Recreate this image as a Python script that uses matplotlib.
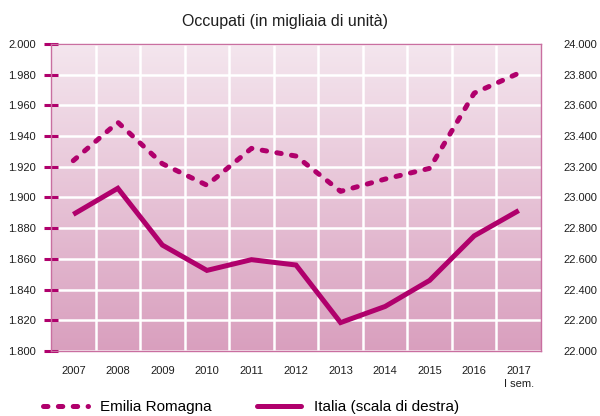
import matplotlib

matplotlib.use("Agg")
import matplotlib.pyplot as plt
import numpy as np
from matplotlib.colors import LinearSegmentedColormap
from matplotlib.lines import Line2D
from matplotlib.ticker import FuncFormatter

YEARS = ["2007", "2008", "2009", "2010", "2011", "2012", "2013", "2014", "2015", "2016", "2017\nI sem."]
EMILIA_ROMAGNA = [1924, 1949, 1922, 1908, 1932, 1927, 1904, 1912, 1919, 1968, 1981]
ITALIA = [22890, 23060, 22690, 22525, 22595, 22560, 22185, 22290, 22460, 22750, 22915]

LEFT_TICKS = [1800, 1820, 1840, 1860, 1880, 1900, 1920, 1940, 1960, 1980, 2000]
RIGHT_TICKS = [22000, 22200, 22400, 22600, 22800, 23000, 23200, 23400, 23600, 23800, 24000]

TITLE = "Occupati (in migliaia di unità)"
LABEL_ER = "Emilia Romagna"
LABEL_IT = "Italia (scala di destra)"

LINE_COLOR = "#b0006c"
SPINE_COLOR = "#c96fa0"
TEXT_COLOR = "#1e1e1e"
FONT = ["Liberation Sans Narrow", "Liberation Sans", "DejaVu Sans"]


def thousands(v, _pos):
    return f"{v:,.0f}".replace(",", ".")


def main() -> int:
    plt.rcParams["font.family"] = FONT
    plt.rcParams["lines.scale_dashes"] = False

    fig = plt.figure(figsize=(6.0, 4.16), dpi=100)
    ax = fig.add_axes([0.085, 0.1563, 0.8167, 0.7379])
    x = np.arange(len(YEARS))

    # background gradient, light on top, darker at the bottom
    cmap = LinearSegmentedColormap.from_list("bg", ["#d99fbe", "#f4e6ee"])
    grad = np.linspace(0, 1, 256).reshape(-1, 1)
    ax.imshow(grad, cmap=cmap, origin="lower", aspect="auto",
              extent=(-0.5, len(YEARS) - 0.5, LEFT_TICKS[0], LEFT_TICKS[-1]), zorder=0)

    ax.set_xlim(-0.5, len(YEARS) - 0.5)
    ax.set_ylim(LEFT_TICKS[0], LEFT_TICKS[-1])
    ax.set_yticks(LEFT_TICKS)
    ax.yaxis.set_major_formatter(FuncFormatter(thousands))
    ax.set_xticks(x)
    ax.set_xticklabels(YEARS, linespacing=1.3)
    ax.set_xticks(x[:-1] + 0.5, minor=True)
    ax.tick_params(axis="x", which="both", length=0, pad=11, labelsize=8, labelcolor=TEXT_COLOR)
    ax.tick_params(axis="y", direction="inout", length=10, width=2.2, color=LINE_COLOR,
                   pad=6, labelsize=8, labelcolor=TEXT_COLOR)

    ax.grid(True, which="minor", axis="x", color="white", linewidth=1.8)
    ax.grid(True, which="major", axis="y", color="white", linewidth=1.8)
    for line in ax.get_xgridlines() + ax.get_ygridlines():
        line.set_zorder(1)

    for side in ("left", "right", "top", "bottom"):
        ax.spines[side].set_color(SPINE_COLOR)
        ax.spines[side].set_linewidth(1.0)
        ax.spines[side].set_zorder(3)

    ax.plot(x, EMILIA_ROMAGNA, color=LINE_COLOR, linewidth=3.6, dashes=(3.2, 7.5),
            dash_capstyle="round", zorder=4)

    ax2 = ax.twinx()
    ax2.set_ylim(RIGHT_TICKS[0], RIGHT_TICKS[-1])
    ax2.set_yticks(RIGHT_TICKS)
    ax2.yaxis.set_major_formatter(FuncFormatter(thousands))
    ax2.tick_params(axis="y", length=0, pad=16, labelsize=8, labelcolor=TEXT_COLOR)
    for side in ("left", "right", "top", "bottom"):
        ax2.spines[side].set_visible(False)
    ax2.plot(x, ITALIA, color=LINE_COLOR, linewidth=3.6, solid_capstyle="butt",
             solid_joinstyle="miter", zorder=4)

    fig.text(0.475, 0.949, TITLE, ha="center", va="center", fontsize=11.5, color=TEXT_COLOR)

    handles = [
        Line2D([], [], color=LINE_COLOR, linewidth=3.6, dashes=(3.2, 7.5), dash_capstyle="round"),
        Line2D([], [], color=LINE_COLOR, linewidth=3.6, solid_capstyle="round"),
    ]
    fig.legend(handles, [LABEL_ER, LABEL_IT], loc="center left", bbox_to_anchor=(0.072, 0.022),
               ncol=2, frameon=False, fontsize=11, handlelength=2.9, handletextpad=0.8,
               columnspacing=3.0, borderpad=0, borderaxespad=0)

    fig.savefig("out.png", dpi=100)
    plt.close(fig)
    return 0


if __name__ == "__main__":
    raise SystemExit(main())
